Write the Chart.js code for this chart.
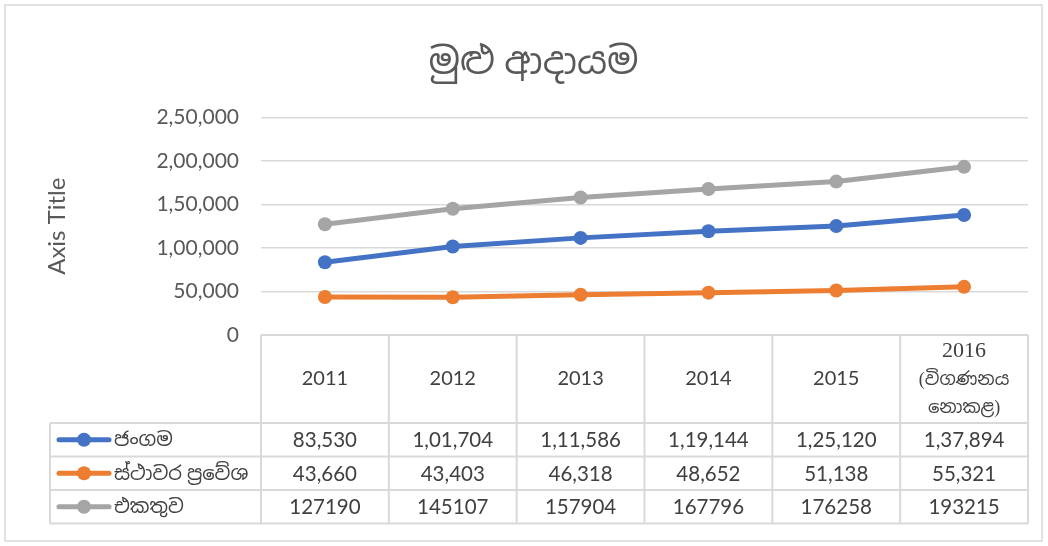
<!DOCTYPE html>
<html>
<head>
<meta charset="utf-8">
<script src="https://cdn.jsdelivr.net/npm/chart.js@4.4.1/dist/chart.umd.min.js"></script>
<style>
  html, body { margin: 0; padding: 0; background: #fff; }
  #wrap { width: 1048px; height: 546px; }
</style>
</head>
<body>
<div id="wrap"><canvas id="grafico" width="1048" height="546"></canvas></div>
<script>
// dados do gráfico
const anos = ['2011', '2012', '2013', '2014', '2015', ['2016', '(විගණනය', 'නොකළ)']];
const jangama = [83530, 101704, 111586, 119144, 125120, 137894];
const sthavara = [43660, 43403, 46318, 48652, 51138, 55321];
const ekathuwa = [127190, 145107, 157904, 167796, 176258, 193215];
const nomesSeries = ['ජංගම', 'ස්ථාවර ප්‍රවේශ', 'එකතුව'];
const coresSeries = ['#4472C4', '#ED7D31', '#A5A5A5'];

const fonte = 'Lato, "Noto Sans", "Noto Sans Sinhala", sans-serif';
const cinzaGrade = '#d9d9d9';

// formato indiano: 2,50,000
function formatoIN(v) {
  const s = String(Math.round(v));
  if (s.length <= 3) return s;
  let fim = s.slice(-3);
  let resto = s.slice(0, -3);
  const partes = [];
  while (resto.length > 2) {
    partes.unshift(resto.slice(-2));
    resto = resto.slice(0, -2);
  }
  if (resto) partes.unshift(resto);
  return partes.join(',') + ',' + fim;
}

// tabela de dados embaixo do gráfico
const tabelaPlugin = {
  id: 'tabela',
  beforeDraw(chart) {
    const c = chart.ctx;
    c.save();
    c.fillStyle = '#fff';
    c.fillRect(0, 0, chart.width, chart.height);
    c.strokeStyle = cinzaGrade;
    c.lineWidth = 1.5;
    c.strokeRect(5, 5, 1037, 536);
    c.restore();
  },
  afterDraw(chart) {
    const c = chart.ctx;
    const area = chart.chartArea;
    const xs = chart.scales.x;
    const n = anos.length;
    const larg = (area.right - area.left) / n;
    const topo = area.bottom;
    const altCab = 88;
    const altLinha = 33.5;
    const esq = 50;
    const linhas = [topo + altCab, topo + altCab + altLinha, topo + altCab + 2 * altLinha, topo + altCab + 3 * altLinha];

    c.save();
    c.strokeStyle = cinzaGrade;
    c.lineWidth = 2;
    c.beginPath();
    c.moveTo(area.left, topo);
    c.lineTo(area.right, topo);
    linhas.forEach(y => { c.moveTo(esq, y); c.lineTo(area.right, y); });
    for (let i = 0; i <= n; i++) {
      const x = area.left + i * larg;
      c.moveTo(x, topo);
      c.lineTo(x, linhas[3]);
    }
    c.moveTo(esq, linhas[0]);
    c.lineTo(esq, linhas[3]);
    c.stroke();

    // cabeçalho (anos)
    c.fillStyle = '#404040';
    c.textAlign = 'center';
    c.textBaseline = 'middle';
    anos.forEach((a, i) => {
      const x = xs.getPixelForValue(i);
      const cy = topo + altCab / 2;
      if (Array.isArray(a)) {
        c.font = '22px "Liberation Serif", serif';
        c.fillText(a[0], x, cy - 28);
        c.font = '18px "Liberation Serif", "Noto Sans Sinhala", serif';
        c.fillText(a[1], x, cy + 1);
        c.fillText(a[2], x, cy + 29);
      } else {
        c.font = '20px ' + fonte;
        c.fillText(a, x, cy);
      }
    });

    // linhas de valores
    const series = [jangama, sthavara, ekathuwa];
    series.forEach((vals, r) => {
      const cy = linhas[r] + altLinha / 2;
      c.font = '20.5px ' + fonte;
      c.fillStyle = '#404040';
      c.textAlign = 'center';
      vals.forEach((v, i) => {
        const txt = r === 2 ? String(v) : formatoIN(v);
        c.fillText(txt, xs.getPixelForValue(i), cy + 1);
      });
      // chave da legenda
      c.strokeStyle = coresSeries[r];
      c.lineWidth = 5;
      c.lineCap = 'round';
      c.beginPath();
      c.moveTo(59, cy);
      c.lineTo(109, cy);
      c.stroke();
      c.fillStyle = coresSeries[r];
      c.beginPath();
      c.arc(84, cy, 7, 0, Math.PI * 2);
      c.fill();
      c.fillStyle = '#404040';
      c.textAlign = 'left';
      c.font = '19.5px ' + fonte;
      c.fillText(nomesSeries[r], 114, cy);
    });
    c.restore();
  }
};

const ctx = document.getElementById('grafico').getContext('2d');
new Chart(ctx, {
  type: 'line',
  data: {
    labels: anos,
    datasets: [jangama, sthavara, ekathuwa].map((d, i) => ({
      label: nomesSeries[i],
      data: d,
      borderColor: coresSeries[i],
      backgroundColor: coresSeries[i],
      borderWidth: 5,
      pointRadius: 7,
      pointBorderWidth: 0,
      tension: 0
    }))
  },
  options: {
    responsive: false,
    animation: false,
    layout: { padding: { left: 39, right: 20, top: 40, bottom: 211 } },
    plugins: {
      legend: { display: false },
      tooltip: { enabled: false },
      title: {
        display: true,
        text: 'මුළු ආදායම',
        color: '#595959',
        font: { family: fonte, size: 37, weight: 'normal' },
        padding: { top: 0, bottom: 33 }
      }
    },
    scales: {
      x: {
        offset: true,
        ticks: { display: false },
        grid: { display: false, drawTicks: false },
        border: { display: false }
      },
      y: {
        min: 0,
        max: 250000,
        afterFit: s => { s.width = 222; },
        ticks: {
          stepSize: 50000,
          padding: 22,
          color: '#595959',
          font: { family: fonte, size: 21 },
          callback: v => formatoIN(v)
        },
        grid: { color: cinzaGrade, lineWidth: 1.5, drawTicks: false },
        border: { display: false },
        title: {
          display: true,
          text: 'Axis Title',
          color: '#595959',
          font: { family: fonte, size: 24 }
        }
      }
    }
  },
  plugins: [tabelaPlugin]
});
</script>
</body>
</html>
